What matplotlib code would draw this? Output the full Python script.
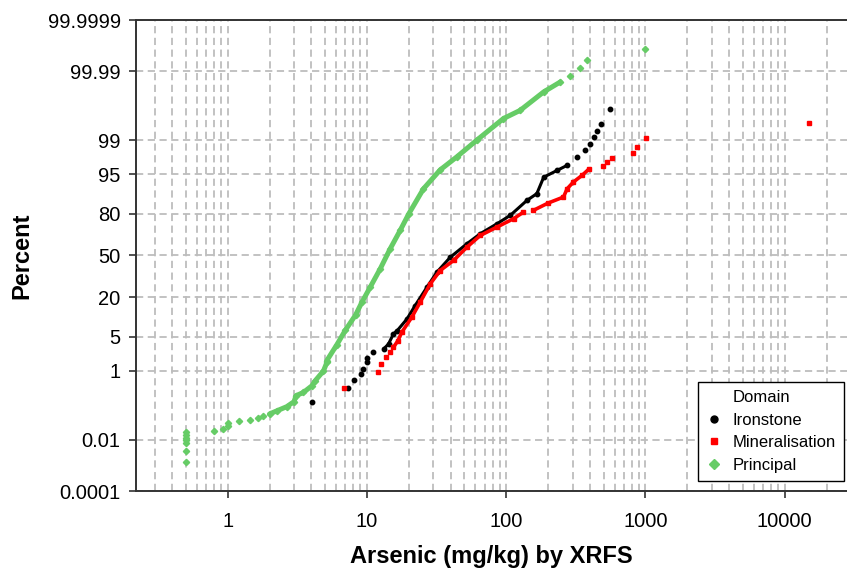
import numpy as np
import matplotlib
matplotlib.use("Agg")
import matplotlib.pyplot as plt
from matplotlib.lines import Line2D
from matplotlib.ticker import FixedLocator, NullLocator, LogLocator, FixedFormatter, NullFormatter
from statistics import NormalDist

plt.rcParams['font.family'] = ['Liberation Sans', 'DejaVu Sans']

# Principal domain
principal_x = [0.5, 0.5, 0.5, 0.5, 0.5, 0.5, 0.5, 0.8, 0.92, 1.0, 1.0, 1.2, 1.45, 1.66, 1.81,
               2.0, 2.26, 2.66, 3.0, 3.1, 3.5, 4.03, 4.25, 4.88, 5.16, 5.16, 6.09, 7.0, 8.3,
               9.2, 10.56, 12.47, 14.7, 17.35, 20.0, 25.5, 33.6, 44.2, 61.7, 95.6, 126, 186,
               245, 288, 340, 381, 1000]
principal_pct = [0.0016, 0.0039, 0.0076, 0.0097, 0.0119, 0.0148, 0.0187, 0.020, 0.0233, 0.030,
                 0.036, 0.042, 0.045, 0.052, 0.058, 0.069, 0.086, 0.114, 0.159, 0.233, 0.285,
                 0.427, 0.57, 0.99, 1.54, 1.70, 3.59, 6.55, 11.5, 17.2, 26.1, 39.4, 55.4, 69.4,
                 80.0, 91.1, 95.8, 97.67, 99.01, 99.715, 99.83, 99.952, 99.977, 99.985, 99.992,
                 99.9959, 99.9984]

# Ironstone domain
iron_x = [4.05, 7.26, 8.11, 9.1, 9.45, 10.0, 10.1, 11.15, 13.2, 14.3, 15.5, 16.5, 19.4, 22.2,
          27.0, 31.8, 39.7, 52.3, 65.2, 85.9, 107, 141, 166, 186, 232, 274, 323, 370, 402, 424,
          449, 480, 553]
iron_pct = [0.154, 0.373, 0.597, 0.84, 1.1, 1.54, 1.97, 2.53, 2.96, 3.7, 5.66, 6.46, 10.0, 15.6,
            26.1, 36.8, 48.6, 59.4, 67.0, 73.9, 79.1, 86.7, 89.4, 94.3, 95.7, 96.56, 97.67, 98.32,
            98.81, 99.16, 99.40, 99.61, 99.84]

# Mineralisation domain
mine_x = [6.89, 12.0, 12.7, 13.7, 14.7, 15.5, 16.7, 17.8, 21.0, 24.1, 28.5, 33.6, 41.9, 52.3,
          65.2, 85.9, 113, 133, 157, 200, 258, 274, 304, 351, 391, 496, 530, 575, 815, 871,
          1011, 15000]
mine_pct = [0.368, 0.91, 1.43, 1.98, 2.53, 3.18, 4.27, 6.06, 10.6, 17.2, 28.3, 38.1, 46.0, 56.7,
            65.7, 71.7, 77.1, 80.9, 81.9, 85.5, 88.1, 91.1, 93.1, 94.72, 95.9, 96.4, 97.04,
            97.55, 98.08, 98.57, 99.11, 99.62]

pct_ticks = [0.0001, 0.01, 1, 5, 20, 50, 80, 95, 99, 99.99, 99.9999]
pct_labels = ['0.0001', '0.01', '1', '5', '20', '50', '80', '95', '99', '99.99', '99.9999']
x_ticks = [1, 10, 100, 1000, 10000]
x_labels = ['1', '10', '100', '1000', '10000']

# normal probability scale
_nd = NormalDist()
_ppf = np.vectorize(_nd.inv_cdf, otypes=[float])
_cdf = np.vectorize(_nd.cdf, otypes=[float])


def pct_to_z(p):
    p = np.clip(np.asarray(p, dtype=float) / 100.0, 1e-15, 1 - 1e-15)
    return _ppf(p)


def z_to_pct(z):
    return 100.0 * _cdf(np.asarray(z, dtype=float))


fig = plt.figure(figsize=(8.47, 5.68), dpi=100)
ax = fig.add_axes([136 / 847, 1 - 491 / 568, 711 / 847, 471 / 568])
ax.set_xscale('log')
ax.set_yscale('function', functions=(pct_to_z, z_to_pct))


def draw(x, p, runs, color, marker, ms, lw, zo):
    x = np.asarray(x, dtype=float)
    p = np.asarray(p, dtype=float)
    for a, b in runs:
        ax.plot(x[a:b], p[a:b], '-', color=color, lw=lw, solid_capstyle='round',
                solid_joinstyle='round', zorder=zo)
    ax.plot(x, p, ls='none', marker=marker, ms=ms, color=color, mec=color, zorder=zo)


green = '#66CC66'
draw(iron_x, iron_pct, [(8, 26)], 'black', 'o', 3.2, 2.2, 3)
draw(mine_x, mine_pct, [(5, 18), (18, 25)], '#FF0000', 's', 3.4, 2.6, 4)
draw(principal_x, principal_pct, [(15, 43)], green, 'D', 3.2, 3.6, 5)

ax.set_xlim(0.22, 28000)
ax.set_ylim(0.0001, 99.9999)

ax.xaxis.set_major_locator(FixedLocator(x_ticks))
ax.xaxis.set_major_formatter(FixedFormatter(x_labels))
ax.xaxis.set_minor_locator(LogLocator(base=10, subs=np.arange(2, 10), numticks=20))
ax.xaxis.set_minor_formatter(NullFormatter())
ax.yaxis.set_major_locator(FixedLocator(pct_ticks))
ax.yaxis.set_major_formatter(FixedFormatter(pct_labels))
ax.yaxis.set_minor_locator(NullLocator())

grid_kw = dict(color='#BDBDBD', lw=1.3, ls=(0, (4, 2.5)))
ax.grid(True, which='major', axis='both', **grid_kw)
ax.grid(True, which='minor', axis='x', **grid_kw)
ax.set_axisbelow(True)

ax.tick_params(axis='both', which='major', labelsize=14.5, length=5, width=1.2,
               color='#333333', direction='out')
ax.tick_params(axis='x', which='major', pad=10)
ax.tick_params(axis='y', which='major', pad=6)
ax.tick_params(axis='x', which='minor', length=0)

for side in ['left', 'bottom', 'top']:
    ax.spines[side].set_color('#333333')
    ax.spines[side].set_linewidth(1.4)
ax.spines['right'].set_visible(False)

ax.set_xlabel('Arsenic (mg/kg) by XRFS', fontsize=17, fontweight='bold', labelpad=10)
ax.set_ylabel('Percent', fontsize=17, fontweight='bold', labelpad=10)

handles = [
    Line2D([], [], ls='none', label='Domain'),
    Line2D([], [], ls='none', marker='o', ms=5, color='black', label='Ironstone'),
    Line2D([], [], ls='none', marker='s', ms=5, color='#FF0000', label='Mineralisation'),
    Line2D([], [], ls='none', marker='D', ms=5, color=green, label='Principal'),
]
leg = ax.legend(handles=handles, loc='lower right', bbox_to_anchor=(0.996, 0.021),
                borderaxespad=0, fontsize=12, frameon=True, fancybox=False, framealpha=1,
                edgecolor='black', handlelength=1.0, handletextpad=0.6,
                labelspacing=0.45, borderpad=0.5)
leg.get_frame().set_linewidth(1.0)
leg.set_zorder(10)

fig.savefig('out.png', dpi=100)
